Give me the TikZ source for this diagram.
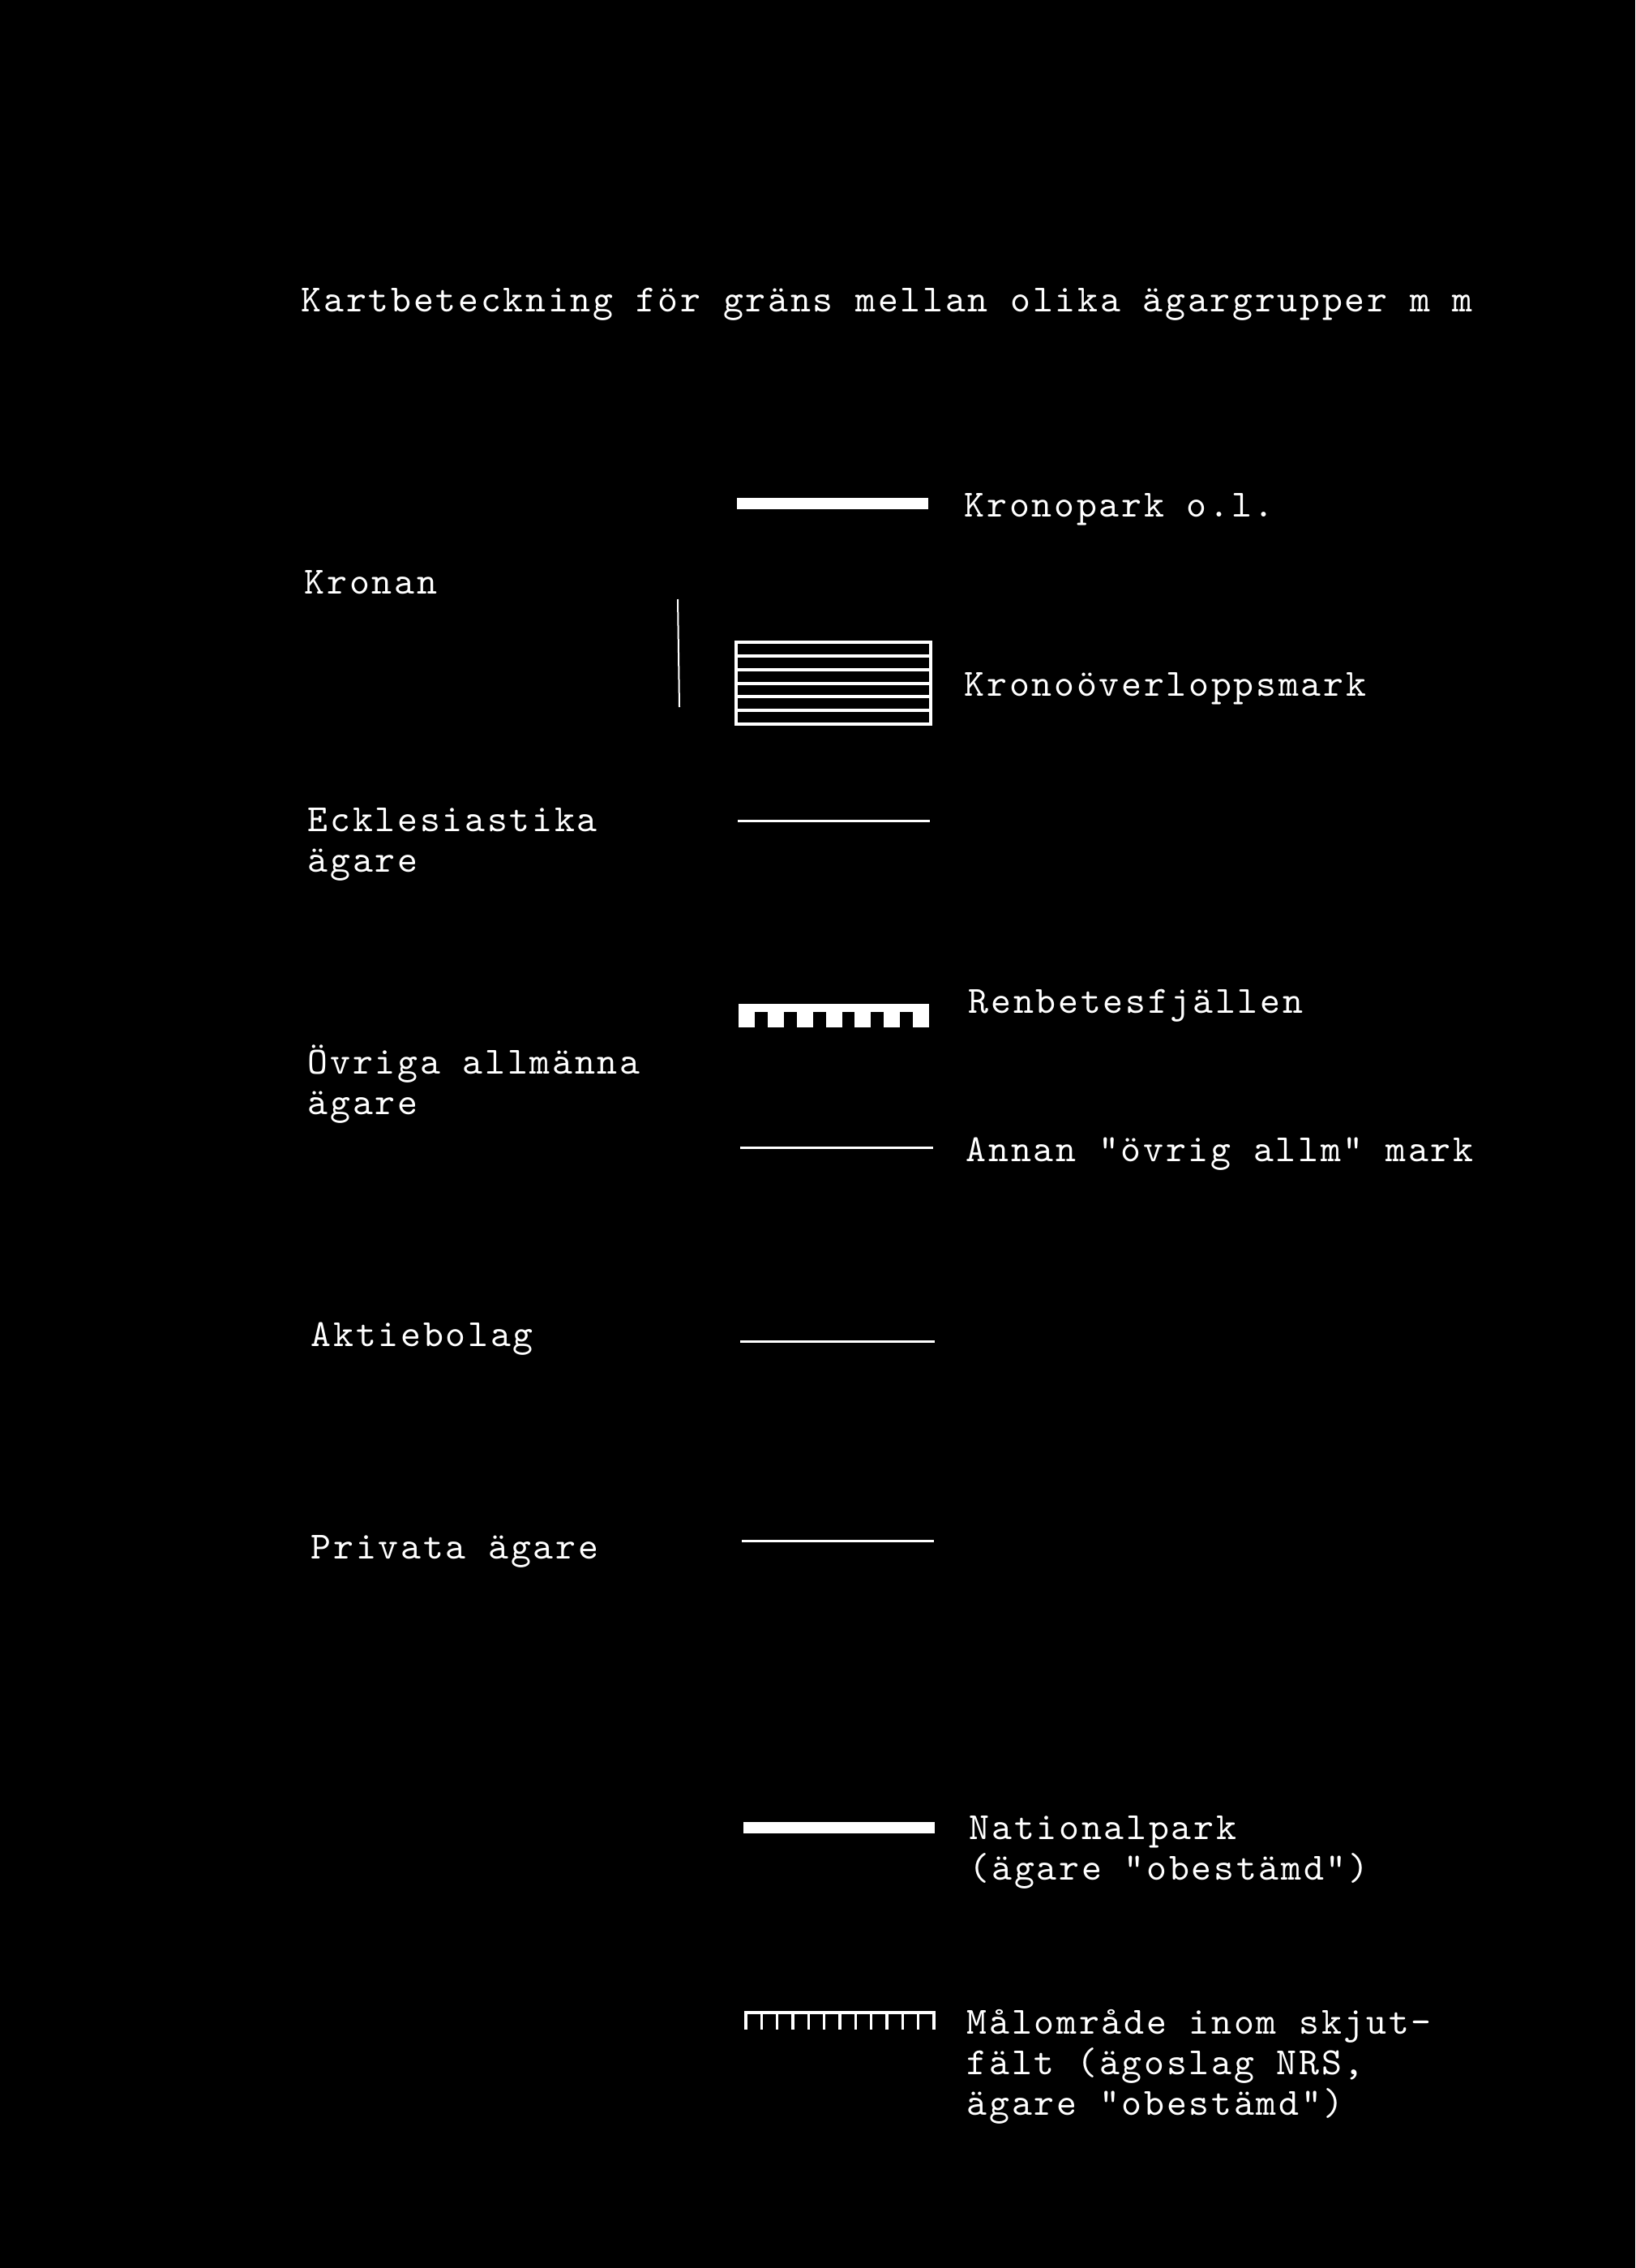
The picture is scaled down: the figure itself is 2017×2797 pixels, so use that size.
\documentclass[tikz,border=0pt]{standalone}
\usepackage{fontspec}
\newfontfamily\typefont{lmmono10-regular.otf}[LetterSpace=5.8]

\begin{document}
\begin{tikzpicture}[
    x=0.01cm, y=-0.01cm,
    legendtext/.style={anchor=base west, inner sep=0pt, text=white, align=left,
        font=\typefont\fontsize{13.5}{14.2}\selectfont},
    thinline/.style={draw=white, line width=0.03cm},
    solidbar/.style={fill=white}
]
\fill[black] (0,0) rectangle (2017,2797);
\useasboundingbox (0,0) rectangle (2017,2797);

% rubrik
\node[legendtext] (title) at (371,384) {Kartbeteckning för gräns mellan olika ägargrupper m m};

% Kronan
\node[legendtext] (kronan) at (375,732) {Kronan};
\draw[white, line width=0.02cm] (836,739) -- (838,872);
\fill[solidbar] (909,614) rectangle (1145,628);
\node[legendtext] (kronopark) at (1189,637) {Kronopark o.l.};
\draw[thinline, line width=0.04cm] (908,792) rectangle (1148,893);
\foreach \y in {809,826,843,859,876}
    \draw[thinline, line width=0.035cm] (908,\y) -- (1148,\y);
\node[legendtext] (overlopp) at (1189,858) {Kronoöverloppsmark};

% Ecklesiastika (base = sista raden)
\node[legendtext] (eckl) at (379,1075) {Ecklesiastika\\ägare};
\draw[thinline] (910,1012) -- (1147,1012);

% Övriga allmänna
\node[legendtext] (ovriga) at (379,1374) {Övriga allmänna\\ägare};
\fill[solidbar] (911,1238) rectangle (1146,1248);
\foreach \i in {0,...,6}
    \fill[solidbar] ({911+\i*35.83},1247) rectangle ({931+\i*35.83},1267);
\node[legendtext] (renbete) at (1194,1249) {Renbetesfjällen};
\draw[thinline] (913,1415) -- (1151,1415);
\node[legendtext] (annan) at (1191,1432) {Annan "övrig allm" mark};

% Aktiebolag, Privata
\node[legendtext] (aktie) at (383,1660) {Aktiebolag};
\draw[thinline] (913,1654) -- (1153,1654);
\node[legendtext] (privata) at (383,1922) {Privata ägare};
\draw[thinline] (915,1900) -- (1152,1900);

% obestämd
\fill[solidbar] (917,2247) rectangle (1153,2261);
\node[legendtext] (natpark) at (1195,2318) {Nationalpark\\(ägare "obestämd")};
\draw[thinline, line width=0.04cm] (918,2482) -- (1154,2482);
\foreach \i in {0,...,12}
    \draw[thinline, line width=0.035cm] ({920+\i*19.33},2482) -- ({920+\i*19.33},2503);
\node[legendtext] (malomr) at (1192,2608) {Målområde inom skjut-\\fält (ägoslag NRS,\\ägare "obestämd")};
\end{tikzpicture}
\end{document}
